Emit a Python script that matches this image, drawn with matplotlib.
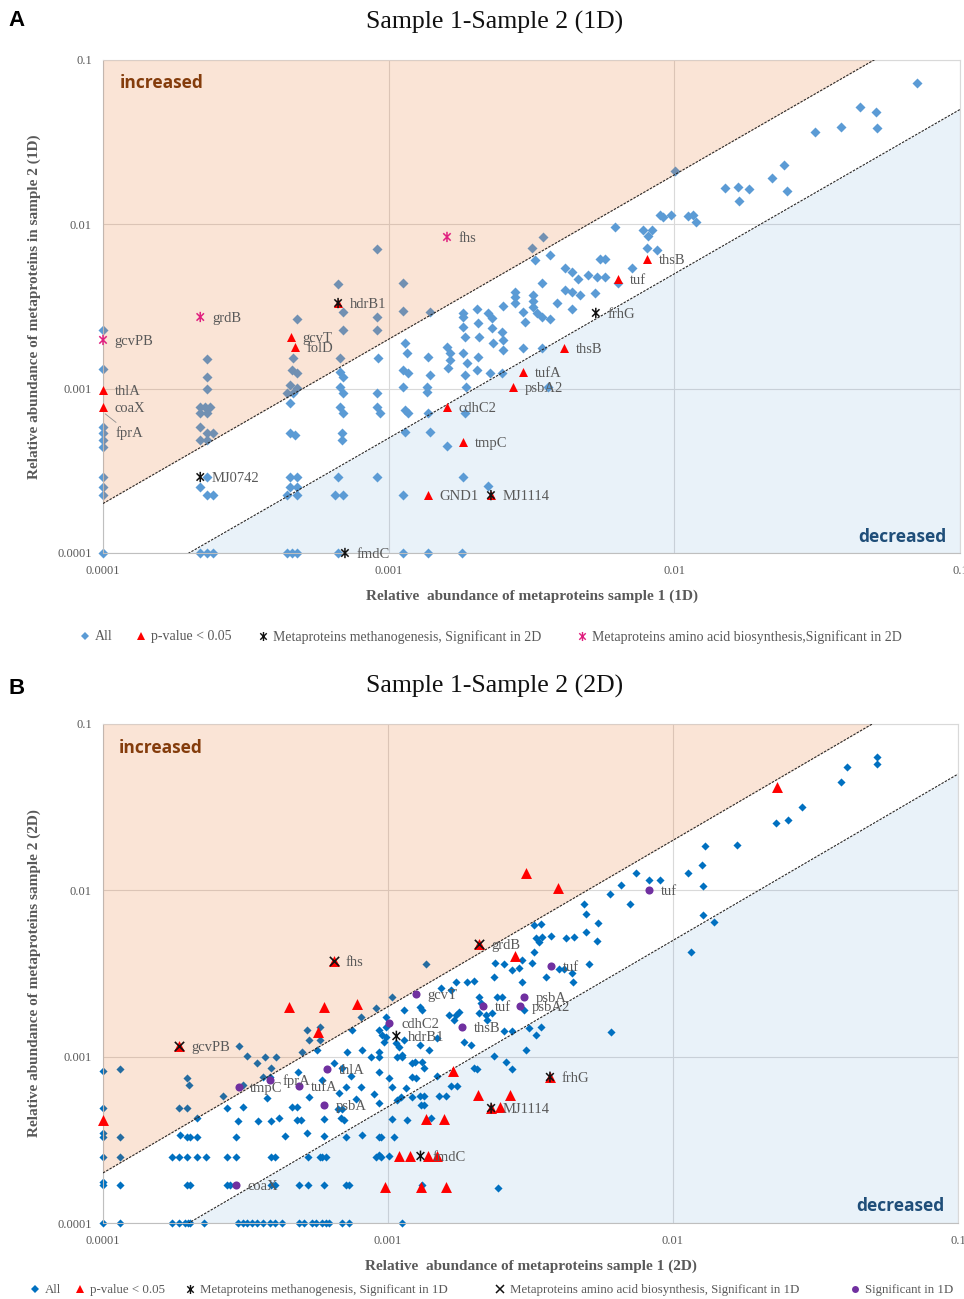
import numpy as np
import matplotlib
matplotlib.use('Agg')
import matplotlib.pyplot as plt
from matplotlib.lines import Line2D
from matplotlib.path import Path

SERIF = ['Liberation Serif', 'DejaVu Serif']
SANS = ['Open Sans', 'DejaVu Sans']
GRAY = '#595959'

# ---------------- Panel A data (sample 1 vs sample 2, 1D) ----------------
A_all = [
    (1.0e-4, 2.28e-3), (1.0e-4, 1.32e-3), (1.0e-4, 5.85e-4), (1.0e-4, 5.37e-4), (1.0e-4, 4.87e-4),
    (1.0e-4, 4.42e-4), (1.0e-4, 2.90e-4), (1.0e-4, 2.52e-4), (1.0e-4, 2.25e-4), (1.0e-4, 1.0e-4),
    (2.31e-4, 1.52e-3), (2.31e-4, 1.18e-3), (2.31e-4, 9.96e-4), (2.19e-4, 7.74e-4), (2.27e-4, 7.74e-4),
    (2.37e-4, 7.74e-4), (2.19e-4, 7.11e-4), (2.31e-4, 7.11e-4), (2.19e-4, 5.85e-4), (2.31e-4, 5.37e-4),
    (2.43e-4, 5.37e-4), (2.19e-4, 4.87e-4), (2.31e-4, 4.87e-4), (2.31e-4, 2.90e-4), (2.19e-4, 2.52e-4),
    (2.31e-4, 2.25e-4), (2.43e-4, 2.25e-4), (2.19e-4, 1.0e-4), (2.31e-4, 1.0e-4), (2.43e-4, 1.0e-4),
    (4.78e-4, 2.66e-3), (4.62e-4, 1.54e-3), (4.59e-4, 1.30e-3), (4.78e-4, 1.25e-3), (4.51e-4, 1.05e-3),
    (4.78e-4, 1.01e-3), (4.41e-4, 9.42e-4), (4.62e-4, 9.42e-4), (4.51e-4, 8.18e-4), (4.51e-4, 5.37e-4),
    (4.70e-4, 5.23e-4), (4.51e-4, 2.90e-4), (4.78e-4, 2.90e-4), (4.51e-4, 2.52e-4), (4.78e-4, 2.52e-4),
    (4.41e-4, 2.25e-4), (4.78e-4, 2.25e-4), (4.41e-4, 1.0e-4), (4.59e-4, 1.0e-4), (4.78e-4, 1.0e-4),
    (6.65e-4, 4.34e-3), (6.92e-4, 2.93e-3), (6.92e-4, 2.28e-3), (6.75e-4, 1.54e-3), (6.75e-4, 1.26e-3),
    (6.92e-4, 1.18e-3), (6.75e-4, 1.02e-3), (6.92e-4, 9.42e-4), (6.75e-4, 7.74e-4), (6.92e-4, 7.11e-4),
    (6.86e-4, 5.37e-4), (6.86e-4, 4.87e-4), (6.65e-4, 2.90e-4), (6.49e-4, 2.25e-4), (6.92e-4, 2.25e-4),
    (6.65e-4, 1.0e-4),
    (9.10e-4, 7.08e-3), (9.10e-4, 2.73e-3), (9.10e-4, 2.28e-3), (9.17e-4, 1.54e-3), (9.10e-4, 9.42e-4),
    (9.10e-4, 7.74e-4), (9.32e-4, 7.11e-4), (9.10e-4, 2.90e-4),
    (1.12e-3, 4.40e-3), (1.12e-3, 2.97e-3), (1.14e-3, 1.90e-3), (1.16e-3, 1.65e-3), (1.12e-3, 1.30e-3),
    (1.17e-3, 1.25e-3), (1.12e-3, 1.02e-3), (1.14e-3, 7.41e-4), (1.17e-3, 7.11e-4), (1.14e-3, 5.45e-4),
    (1.12e-3, 2.25e-4), (1.12e-3, 1.0e-4),
    (1.39e-3, 2.93e-3), (1.37e-3, 1.56e-3), (1.39e-3, 1.21e-3), (1.36e-3, 1.02e-3), (1.36e-3, 9.55e-4),
    (1.37e-3, 7.11e-4), (1.39e-3, 5.45e-4), (1.37e-3, 1.0e-4),
    (1.60e-3, 1.79e-3), (1.64e-3, 1.65e-3), (1.64e-3, 1.50e-3), (1.61e-3, 1.34e-3), (1.60e-3, 4.48e-4),
    (1.82e-3, 2.89e-3), (1.82e-3, 2.73e-3), (1.82e-3, 2.37e-3), (1.85e-3, 2.06e-3), (1.82e-3, 1.65e-3),
    (1.88e-3, 1.43e-3), (1.85e-3, 1.21e-3), (1.87e-3, 1.02e-3), (1.85e-3, 7.11e-4), (1.82e-3, 2.90e-4),
    (1.81e-3, 1.0e-4),
    (2.04e-3, 3.05e-3), (2.05e-3, 2.51e-3), (2.07e-3, 2.06e-3), (2.05e-3, 1.56e-3), (2.04e-3, 1.30e-3),
    (2.23e-3, 2.89e-3), (2.30e-3, 2.69e-3), (2.30e-3, 2.34e-3), (2.32e-3, 1.90e-3), (2.26e-3, 1.25e-3),
    (2.23e-3, 2.56e-4),
    (2.51e-3, 3.19e-3), (2.49e-3, 2.21e-3), (2.51e-3, 1.98e-3), (2.51e-3, 1.72e-3), (2.49e-3, 1.25e-3),
    (2.77e-3, 3.88e-3), (2.77e-3, 3.61e-3), (2.77e-3, 3.32e-3),
    (2.95e-3, 2.93e-3), (3.00e-3, 2.55e-3), (2.95e-3, 1.77e-3),
    (3.17e-3, 7.18e-3), (3.47e-3, 8.38e-3), (3.25e-3, 6.07e-3), (3.44e-3, 4.40e-3), (3.20e-3, 3.72e-3),
    (3.20e-3, 3.42e-3), (3.20e-3, 3.14e-3), (3.30e-3, 2.89e-3), (3.44e-3, 2.73e-3), (3.44e-3, 1.77e-3),
    (3.67e-3, 6.51e-3), (3.67e-3, 2.66e-3), (3.61e-3, 1.02e-3), (3.88e-3, 3.32e-3),
    (4.14e-3, 5.43e-3), (4.38e-3, 5.13e-3), (4.14e-3, 3.99e-3), (4.38e-3, 3.88e-3), (4.67e-3, 3.72e-3),
    (4.38e-3, 3.05e-3), (4.60e-3, 4.65e-3),
    (4.98e-3, 4.92e-3), (5.36e-3, 4.79e-3), (5.71e-3, 4.79e-3), (5.27e-3, 3.82e-3), (5.49e-3, 6.16e-3),
    (5.71e-3, 6.16e-3),
    (6.19e-3, 9.64e-3), (7.10e-3, 5.43e-3), (6.35e-3, 4.40e-3),
    (7.76e-3, 9.25e-3), (8.08e-3, 8.50e-3), (8.35e-3, 9.25e-3), (8.02e-3, 7.18e-3), (8.69e-3, 6.98e-3),
    (8.90e-3, 1.14e-2), (9.12e-3, 1.11e-2), (9.73e-3, 1.14e-2),
    (1.005e-2, 2.11e-2), (1.115e-2, 1.125e-2), (1.16e-2, 1.14e-2), (1.19e-2, 1.034e-2),
    (1.50e-2, 1.665e-2), (1.67e-2, 1.69e-2), (1.82e-2, 1.64e-2), (1.68e-2, 1.39e-2),
    (2.20e-2, 1.92e-2), (2.42e-2, 2.30e-2), (2.48e-2, 1.60e-2),
    (3.10e-2, 3.65e-2), (3.83e-2, 3.92e-2), (4.47e-2, 5.18e-2), (5.08e-2, 4.83e-2), (5.12e-2, 3.86e-2),
    (7.06e-2, 7.26e-2),
]
A_sig = [
    (4.55e-4, 2.06e-3), (4.70e-4, 1.79e-3), (1.0e-4, 9.82e-4), (1.0e-4, 7.74e-4), (8.02e-3, 6.16e-3),
    (6.35e-3, 4.65e-3), (4.11e-3, 1.77e-3), (2.95e-3, 1.26e-3), (2.72e-3, 1.02e-3), (1.60e-3, 7.74e-4),
    (1.82e-3, 4.74e-4), (1.37e-3, 2.25e-4), (6.65e-4, 3.32e-3), (2.28e-3, 2.25e-4),
]
A_meth = [(6.65e-4, 3.32e-3), (2.19e-4, 2.90e-4), (7.03e-4, 1.0e-4), (5.31e-3, 2.89e-3), (2.28e-3, 2.25e-4)]
A_amino = [(1.0e-4, 1.98e-3), (2.19e-4, 2.73e-3), (1.60e-3, 8.38e-3)]
A_labels = [
    ('gcvPB', 1.0e-4, 1.98e-3), ('grdB', 2.19e-4, 2.73e-3), ('fhs', 1.60e-3, 8.38e-3),
    ('hdrB1', 6.65e-4, 3.32e-3), ('gcvT', 4.55e-4, 2.06e-3), ('folD', 4.70e-4, 1.79e-3),
    ('thlA', 1.0e-4, 9.82e-4), ('coaX', 1.0e-4, 7.74e-4), ('MJ0742', 2.19e-4, 2.90e-4),
    ('fmdC', 7.03e-4, 1.0e-4), ('thsB', 8.02e-3, 6.16e-3), ('tuf', 6.35e-3, 4.65e-3),
    ('frhG', 5.31e-3, 2.89e-3), ('thsB', 4.11e-3, 1.77e-3), ('tufA', 2.95e-3, 1.26e-3),
    ('psbA2', 2.72e-3, 1.02e-3), ('cdhC2', 1.60e-3, 7.74e-4), ('tmpC', 1.82e-3, 4.74e-4),
    ('GND1', 1.37e-3, 2.25e-4), ('MJ1114', 2.28e-3, 2.25e-4),
]
A_fprA = (1.0e-4, 7.2e-4)

# ---------------- Panel B data (sample 1 vs sample 2, 2D) ----------------
B_all = [
    (5.20e-2, 6.34e-2), (5.20e-2, 5.75e-2), (4.08e-2, 5.52e-2), (3.89e-2, 4.49e-2), (2.84e-2, 3.17e-2),
    (2.29e-2, 2.54e-2), (2.54e-2, 2.65e-2), (1.30e-2, 1.85e-2), (1.68e-2, 1.875e-2), (1.26e-2, 1.42e-2),
    (1.13e-2, 1.27e-2), (1.27e-2, 1.063e-2), (8.98e-3, 1.155e-2), (8.21e-3, 1.155e-2), (1.27e-2, 7.11e-3),
    (1.39e-2, 6.46e-3), (1.16e-2, 4.26e-3),
    (7.40e-3, 1.27e-2), (6.55e-3, 1.078e-2), (6.00e-3, 9.52e-3), (7.05e-3, 8.28e-3), (4.86e-3, 8.28e-3),
    (4.94e-3, 7.21e-3), (5.45e-3, 6.37e-3), (4.94e-3, 5.62e-3), (5.40e-3, 4.96e-3),
    (3.25e-3, 6.19e-3), (3.44e-3, 6.28e-3), (3.30e-3, 5.17e-3), (3.38e-3, 4.89e-3), (3.47e-3, 5.25e-3),
    (3.73e-3, 5.32e-3), (4.21e-3, 5.17e-3), (4.49e-3, 5.25e-3),
    (3.25e-3, 4.26e-3), (1.36e-3, 3.61e-3), (2.37e-3, 3.66e-3), (2.55e-3, 3.61e-3), (2.72e-3, 3.32e-3),
    (2.88e-3, 3.42e-3), (2.95e-3, 3.81e-3), (3.20e-3, 3.66e-3), (3.58e-3, 3.02e-3), (3.98e-3, 3.37e-3),
    (4.14e-3, 3.37e-3), (4.42e-3, 3.19e-3), (4.45e-3, 2.81e-3), (5.06e-3, 3.61e-3),
    (2.36e-3, 3.02e-3), (2.95e-3, 2.81e-3), (1.89e-3, 2.81e-3), (2.00e-3, 2.85e-3), (1.73e-3, 2.81e-3),
    (1.54e-3, 2.59e-3), (1.67e-3, 2.52e-3), (1.035e-3, 2.29e-3), (2.09e-3, 2.29e-3), (2.12e-3, 2.10e-3),
    (2.41e-3, 2.29e-3), (2.51e-3, 2.29e-3), (3.00e-3, 1.91e-3),
    (1.14e-3, 1.91e-3), (1.29e-3, 1.99e-3), (1.32e-3, 1.91e-3), (1.64e-3, 1.78e-3), (1.73e-3, 1.78e-3),
    (1.78e-3, 1.86e-3), (1.71e-3, 1.66e-3), (2.09e-3, 1.83e-3), (2.21e-3, 1.78e-3), (2.32e-3, 1.83e-3),
    (2.23e-3, 1.66e-3), (9.86e-4, 1.73e-3),
    (2.55e-3, 1.43e-3), (2.72e-3, 1.43e-3), (3.12e-3, 1.49e-3), (3.44e-3, 1.51e-3), (3.30e-3, 1.35e-3),
    (9.32e-4, 1.45e-3), (9.86e-4, 1.31e-3), (1.49e-3, 1.30e-3), (1.14e-3, 1.26e-3), (1.29e-3, 1.18e-3),
    (1.85e-3, 1.23e-3), (1.96e-3, 1.18e-3), (1.07e-3, 1.21e-3), (1.078e-3, 9.96e-4), (1.12e-3, 9.96e-4),
    (1.39e-3, 1.10e-3), (3.05e-3, 1.10e-3), (2.36e-3, 1.01e-3), (9.32e-4, 9.96e-4), (6.05e-3, 1.41e-3),
    (2.59e-3, 9.29e-4), (2.72e-3, 8.43e-4), (2.00e-3, 8.55e-4), (2.05e-3, 8.43e-4), (1.21e-3, 9.17e-4),
    (1.24e-3, 9.29e-4), (1.32e-3, 9.29e-4), (1.34e-3, 8.55e-4), (1.01e-3, 7.45e-4), (1.21e-3, 7.55e-4),
    (1.256e-3, 7.45e-4), (1.49e-3, 7.66e-4), (9.32e-4, 8.09e-4),
    (1.035e-3, 6.58e-4), (1.16e-3, 6.48e-4), (1.67e-3, 6.67e-4), (1.75e-3, 6.67e-4),
    (1.11e-3, 5.72e-4), (1.21e-3, 5.72e-4), (1.29e-3, 5.80e-4), (1.34e-3, 5.80e-4), (1.51e-3, 5.80e-4),
    (1.60e-3, 5.80e-4), (1.31e-3, 5.12e-4), (1.34e-3, 5.12e-4),
    (1.03e-3, 4.22e-4), (1.17e-3, 4.16e-4), (1.42e-3, 4.28e-4), (9.32e-4, 3.29e-4), (1.05e-3, 3.29e-4),
    (9.32e-4, 2.56e-4), (1.01e-3, 2.53e-4), (1.32e-3, 1.69e-4), (2.43e-3, 1.62e-4), (1.12e-3, 1.0e-4),
    (9.10e-4, 1.96e-3), (8.06e-4, 1.73e-3), (9.86e-4, 1.51e-3), (5.75e-4, 1.51e-3), (5.18e-4, 1.45e-3),
    (5.30e-4, 1.26e-3), (5.75e-4, 1.26e-3), (7.50e-4, 1.45e-3), (9.55e-4, 1.35e-3), (9.70e-4, 1.23e-3),
    (1.095e-3, 1.14e-3), (1.12e-3, 1.02e-3), (5.01e-4, 1.07e-3), (5.65e-4, 1.10e-3), (7.20e-4, 1.07e-3),
    (8.13e-4, 1.10e-3), (8.74e-4, 9.96e-4), (9.32e-4, 1.07e-3),
    (2.99e-4, 1.16e-3), (3.19e-4, 1.01e-3), (3.46e-4, 9.17e-4), (3.69e-4, 9.96e-4), (4.06e-4, 9.96e-4),
    (3.90e-4, 8.55e-4), (3.63e-4, 7.55e-4), (3.84e-4, 7.55e-4), (3.09e-4, 6.76e-4), (4.85e-4, 8.09e-4),
    (6.49e-4, 9.17e-4), (6.92e-4, 8.55e-4), (7.44e-4, 7.66e-4), (7.14e-4, 6.58e-4), (8.06e-4, 6.58e-4),
    (5.89e-4, 7.24e-4),
    (1.0e-4, 8.20e-4), (1.147e-4, 8.43e-4), (1.97e-4, 7.45e-4), (2.0e-4, 6.76e-4), (2.63e-4, 5.80e-4),
    (1.0e-4, 4.91e-4), (1.85e-4, 4.91e-4), (1.97e-4, 4.91e-4), (2.72e-4, 4.91e-4), (3.09e-4, 4.98e-4),
    (3.75e-4, 5.65e-4), (4.62e-4, 4.98e-4), (4.81e-4, 4.98e-4), (5.30e-4, 5.72e-4), (6.75e-4, 6.05e-4),
    (7.74e-4, 5.57e-4), (8.95e-4, 5.97e-4), (9.32e-4, 5.27e-4), (1.078e-3, 5.49e-4),
    (6.65e-4, 4.85e-4), (6.92e-4, 4.85e-4), (6.86e-4, 4.28e-4), (7.03e-4, 4.16e-4), (2.13e-4, 4.28e-4),
    (2.97e-4, 4.11e-4), (3.49e-4, 4.11e-4), (3.90e-4, 4.11e-4), (4.16e-4, 4.28e-4), (4.78e-4, 4.16e-4),
    (4.97e-4, 4.16e-4), (5.98e-4, 4.22e-4),
    (1.0e-4, 3.48e-4), (1.0e-4, 3.29e-4), (1.147e-4, 3.29e-4), (1.86e-4, 3.38e-4), (1.97e-4, 3.29e-4),
    (2.02e-4, 3.29e-4), (2.13e-4, 3.29e-4), (2.94e-4, 3.29e-4), (4.34e-4, 3.34e-4), (5.18e-4, 3.48e-4),
    (5.98e-4, 3.34e-4), (7.14e-4, 3.29e-4), (8.13e-4, 3.38e-4), (9.47e-4, 3.29e-4),
    (1.0e-4, 1.76e-4),
]
# proteins sharing the same sample-2 abundance (rows of the lower part of panel B)
B_row_y = [2.49e-4, 1.69e-4, 1.0e-4]
B_row_x = [
    [1.0e-4, 1.147e-4, 1.74e-4, 1.85e-4, 1.97e-4, 2.13e-4, 2.29e-4, 2.72e-4, 2.94e-4, 3.90e-4,
     4.0e-4, 5.22e-4, 5.75e-4, 5.89e-4, 6.08e-4, 9.10e-4, 9.47e-4],
    [1.0e-4, 1.147e-4, 1.97e-4, 2.02e-4, 2.72e-4, 2.78e-4, 3.90e-4, 4.0e-4, 4.89e-4, 5.22e-4,
     5.98e-4, 7.14e-4, 7.32e-4],
    [1.0e-4, 1.147e-4, 1.74e-4, 1.85e-4, 1.94e-4, 1.98e-4, 2.02e-4, 2.27e-4, 2.97e-4, 3.09e-4,
     3.19e-4, 3.32e-4, 3.46e-4, 3.63e-4, 3.84e-4, 4.0e-4, 4.23e-4, 4.89e-4, 5.09e-4, 5.39e-4,
     5.61e-4, 5.89e-4, 6.08e-4, 6.23e-4, 6.92e-4, 7.32e-4],
]
B_sig = [
    (2.31e-2, 4.19e-2), (3.05e-3, 1.27e-2), (3.94e-3, 1.034e-2), (2.79e-3, 4.03e-3), (2.09e-3, 4.76e-3),
    (6.44e-4, 3.76e-3), (1.85e-4, 1.16e-3), (4.48e-4, 1.99e-3), (5.94e-4, 1.99e-3), (7.81e-4, 2.07e-3),
    (5.70e-4, 1.41e-3), (1.69e-3, 8.20e-4), (3.70e-3, 7.55e-4), (2.07e-3, 5.89e-4), (2.68e-3, 5.89e-4),
    (2.30e-3, 4.91e-4), (2.47e-3, 4.98e-4), (1.36e-3, 4.22e-4), (1.57e-3, 4.22e-4), (1.0e-4, 4.16e-4),
    (1.095e-3, 2.53e-4), (1.19e-3, 2.53e-4), (1.38e-3, 2.53e-4), (1.48e-3, 2.53e-4),
    (9.78e-4, 1.65e-4), (1.31e-3, 1.65e-4), (1.60e-3, 1.65e-4),
]
B_meth = [(1.07e-3, 1.33e-3), (1.30e-3, 2.53e-4), (2.30e-3, 4.91e-4), (3.70e-3, 7.55e-4)]
B_amino = [(6.44e-4, 3.76e-3), (2.09e-3, 4.76e-3), (1.85e-4, 1.16e-3)]
B_sig1D = [
    (8.21e-3, 1.005e-2), (3.73e-3, 3.51e-3), (1.25e-3, 2.38e-3), (3.00e-3, 2.29e-3), (2.90e-3, 2.02e-3),
    (2.16e-3, 2.02e-3), (1.01e-3, 1.59e-3), (1.82e-3, 1.51e-3), (6.13e-4, 8.43e-4), (3.87e-4, 7.24e-4),
    (2.99e-4, 6.58e-4), (4.89e-4, 6.67e-4), (5.98e-4, 5.12e-4), (2.92e-4, 1.69e-4),
]
B_labels = [
    ('tuf', 8.21e-3, 1.005e-2), ('grdB', 2.09e-3, 4.76e-3), ('fhs', 6.44e-4, 3.76e-3),
    ('tuf', 3.73e-3, 3.51e-3), ('gcvT', 1.25e-3, 2.38e-3), ('psbA', 3.00e-3, 2.29e-3),
    ('psbA2', 2.90e-3, 2.02e-3), ('tuf', 2.16e-3, 2.02e-3), ('cdhC2', 1.01e-3, 1.59e-3),
    ('hdrB1', 1.07e-3, 1.33e-3), ('thsB', 1.82e-3, 1.51e-3), ('gcvPB', 1.85e-4, 1.16e-3),
    ('fprA', 3.87e-4, 7.24e-4), ('tmpC', 2.99e-4, 6.58e-4), ('tufA', 4.89e-4, 6.67e-4),
    ('thlA', 6.13e-4, 8.43e-4), ('psbA', 5.98e-4, 5.12e-4), ('frhG', 3.70e-3, 7.55e-4),
    ('MJ1114', 2.30e-3, 4.91e-4), ('fmdC', 1.30e-3, 2.53e-4), ('coaX', 2.92e-4, 1.69e-4),
]

TICKS = [1e-4, 1e-3, 1e-2, 1e-1]
TICK_LABELS = ['0.0001', '0.001', '0.01', '0.1']

# asterisk marker: vertical bar + X
AST = Path([(0, -1), (0, 1), (-0.72, -0.72), (0.72, 0.72), (-0.72, 0.72), (0.72, -0.72)],
           [Path.MOVETO, Path.LINETO, Path.MOVETO, Path.LINETO, Path.MOVETO, Path.LINETO])


def xy(pts):
    a = np.array(pts, dtype=float)
    return a[:, 0], a[:, 1]


def setup(ax, xlabel, ylabel):
    ax.set_xscale('log')
    ax.set_yscale('log')
    ax.set_xlim(1e-4, 1e-1)
    ax.set_ylim(1e-4, 1e-1)
    ax.set_xticks(TICKS)
    ax.set_yticks(TICKS)
    ax.minorticks_off()
    ax.set_xticklabels(TICK_LABELS, family=SERIF, fontsize=9, color=GRAY)
    ax.set_yticklabels(TICK_LABELS, family=SERIF, fontsize=9, color=GRAY)
    ax.tick_params(axis='x', length=0, pad=9)
    ax.tick_params(axis='y', length=0, pad=8)
    ax.grid(True, color='#D9D9D9', lw=0.8)
    ax.set_axisbelow(True)
    for s in ax.spines.values():
        s.set_color('#D9D9D9')
        s.set_linewidth(0.8)
    ax.spines['left'].set_color('#BFBFBF')
    ax.spines['bottom'].set_color('#BFBFBF')
    ax.set_xlabel(xlabel, family=SERIF, fontsize=11, fontweight='bold', color=GRAY, labelpad=9)
    ax.set_ylabel(ylabel, family=SERIF, fontsize=11, fontweight='bold', color=GRAY, labelpad=12)
    xs = np.logspace(-4, -1, 400)
    ax.fill_between(xs, np.minimum(2 * xs, 0.1), 0.1, color='#E65C00', alpha=0.16, lw=0, zorder=3)
    ax.fill_between(xs, 1e-4, np.maximum(0.5 * xs, 1e-4), color='#5B9BD5', alpha=0.13, lw=0, zorder=1)
    for f in (2.0, 0.5):
        ax.plot(xs, f * xs, color='#262626', lw=0.8, ls=(0, (2.2, 1.2)), zorder=3.5)
    ax.text(1.14e-4, 0.072, 'increased', family=SANS, fontsize=12.5, fontweight='bold',
            color='#843C0C', va='center', ha='left', zorder=6)
    ax.text(0.0895, 1.26e-4, 'decreased', family=SANS, fontsize=12.5, fontweight='bold',
            color='#1F4E79', va='center', ha='right', zorder=6)


def labels(ax, items):
    for name, x, y in items:
        ax.annotate(name, (x, y), xytext=(8.5, -1), textcoords='offset points', va='center', ha='left',
                    family=SERIF, fontsize=10.5, color=GRAY, zorder=7)


def legend_row(handles, texts, xs_px, y_px, size):
    for h, t, xp in zip(handles, texts, xs_px):
        fig.legend([h], [t], loc='center left', bbox_to_anchor=((xp - 5) / 964, 1 - y_px / 1299),
                   frameon=False, prop={'family': SERIF, 'size': size}, labelcolor=GRAY,
                   handlelength=0.8, handletextpad=0.35, borderpad=0, borderaxespad=0)


fig = plt.figure(figsize=(9.64, 12.99), dpi=100)
axA = fig.add_axes([103 / 964, 1 - 553 / 1299, 857 / 964, 493 / 1299])
axB = fig.add_axes([103 / 964, 1 - 1223 / 1299, 855 / 964, 499 / 1299])

# ---------- Panel A ----------
setup(axA, 'Relative  abundance of metaproteins sample 1 (1D)',
      'Relative abundance of metaproteins in sample 2 (1D)')
BLUE_A = '#5B9BD5'
axA.scatter(*xy(A_all), marker='D', s=26, color=BLUE_A, lw=0, zorder=2, clip_on=False)
axA.scatter(*xy(A_sig), marker='^', s=42, color='#FF0000', lw=0, zorder=4, clip_on=False)
axA.scatter(*xy(A_meth), marker=AST, s=55, facecolor='none', edgecolor='#111111', lw=1.1, zorder=5,
            clip_on=False)
axA.scatter(*xy(A_amino), marker=AST, s=55, facecolor='none', edgecolor='#E0207F', lw=1.1, zorder=5,
            clip_on=False)
labels(axA, A_labels)
axA.annotate('fprA', A_fprA, xytext=(9, -15), textcoords='offset points', va='center', ha='left',
             family=SERIF, fontsize=10.5, color=GRAY, zorder=7,
             arrowprops=dict(arrowstyle='-', color='#8C8C8C', lw=0.6, shrinkA=1, shrinkB=2))

# ---------- Panel B ----------
setup(axB, 'Relative  abundance of metaproteins sample 1 (2D)',
      'Relative abundance of metaproteins sample 2 (2D)')
BLUE_B = '#0070C0'
axB.scatter(*xy(B_all), marker='D', s=17, color=BLUE_B, lw=0, zorder=2, clip_on=False)
for yv, xr in zip(B_row_y, B_row_x):
    axB.scatter(xr, [yv] * len(xr), marker='D', s=17, color=BLUE_B, lw=0, zorder=2, clip_on=False)
axB.scatter(*xy(B_sig), marker='^', s=62, color='#FF0000', lw=0, zorder=4, clip_on=False)
axB.scatter(*xy(B_sig1D), marker='o', s=34, color='#7030A0', lw=0, zorder=4, clip_on=False)
axB.scatter(*xy(B_meth), marker=AST, s=60, facecolor='none', edgecolor='#111111', lw=1.1, zorder=5,
            clip_on=False)
axB.scatter(*xy(B_amino), marker='x', s=45, color='#111111', lw=1.2, zorder=5, clip_on=False)
labels(axB, B_labels)

# ---------- titles / panel letters ----------
fig.text(495 / 964, 1 - 22 / 1299, 'Sample 1-Sample 2 (1D)', family=SERIF, fontsize=18.5,
         ha='center', va='center', color='#111111')
fig.text(495 / 964, 1 - 686 / 1299, 'Sample 1-Sample 2 (2D)', family=SERIF, fontsize=18.5,
         ha='center', va='center', color='#111111')
fig.text(8 / 964, 1 - 20 / 1299, 'A', family=['Liberation Sans', 'DejaVu Sans'], fontsize=16,
         fontweight='bold', ha='left', va='center')
fig.text(8 / 964, 1 - 688 / 1299, 'B', family=['Liberation Sans', 'DejaVu Sans'], fontsize=16,
         fontweight='bold', ha='left', va='center')

# ---------- legends ----------
legA = [
    Line2D([], [], ls='none', marker='D', ms=4.2, color=BLUE_A, mew=0),
    Line2D([], [], ls='none', marker='^', ms=6, color='#FF0000', mew=0),
    Line2D([], [], ls='none', marker=AST, ms=6.5, mfc='none', mec='#111111', mew=1.0),
    Line2D([], [], ls='none', marker=AST, ms=6.5, mfc='none', mec='#E0207F', mew=1.0),
]
legA_txt = ['All', 'p-value < 0.05', 'Metaproteins methanogenesis, Significant in 2D',
            'Metaproteins amino acid biosynthesis,Significant in 2D']
legend_row(legA, legA_txt, [84, 140, 262, 581], 637, 10)

legB = [
    Line2D([], [], ls='none', marker='D', ms=4.0, color=BLUE_B, mew=0),
    Line2D([], [], ls='none', marker='^', ms=6, color='#FF0000', mew=0),
    Line2D([], [], ls='none', marker=AST, ms=6.5, mfc='none', mec='#111111', mew=1.0),
    Line2D([], [], ls='none', marker='x', ms=6, color='#111111', mew=1.1),
    Line2D([], [], ls='none', marker='o', ms=5, color='#7030A0', mew=0),
]
legB_txt = ['All', 'p-value < 0.05', 'Metaproteins methanogenesis, Significant in 1D',
            'Metaproteins amino acid biosynthesis, Significant in 1D', 'Significant in 1D']
legend_row(legB, legB_txt, [35, 80, 190, 500, 855], 1290, 9.3)

fig.savefig('out.png', dpi=100)
